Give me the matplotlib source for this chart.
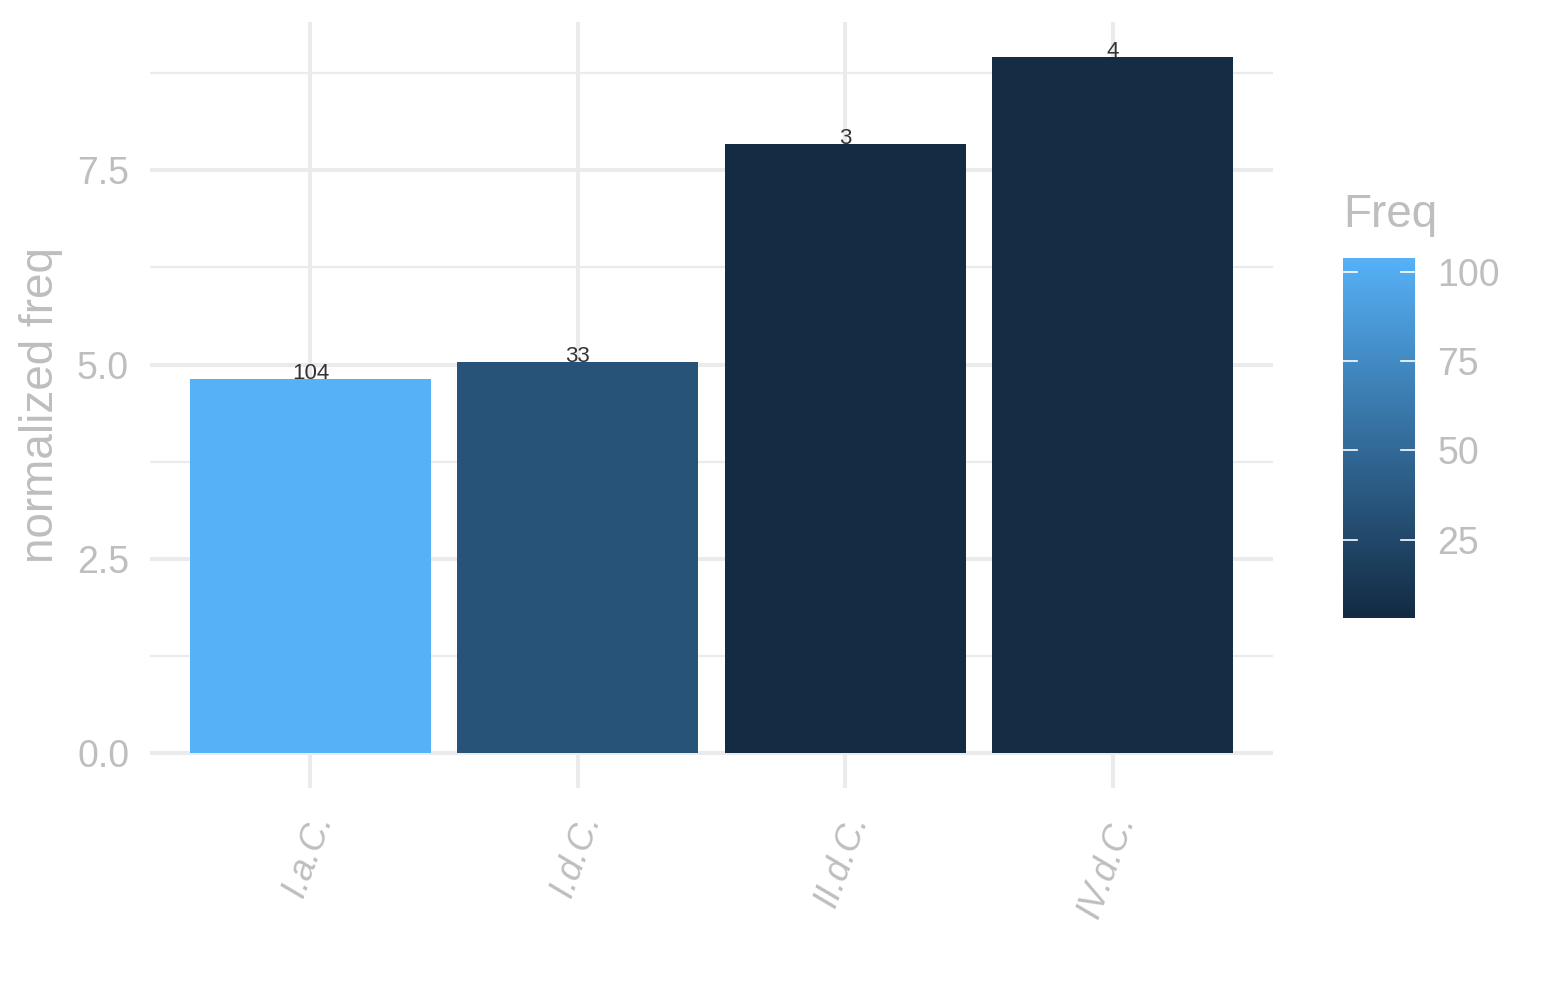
import numpy as np
import matplotlib
matplotlib.use("Agg")
from matplotlib import pyplot as plt
from matplotlib.colors import LinearSegmentedColormap, Normalize
import matplotlib.transforms as mtransforms

categories = ["I.a.C.", "I.d.C.", "II.d.C.", "IV.d.C."]
norm_freq = [4.82, 5.03, 7.84, 8.96]
freq = [104, 33, 3, 4]
y_ticks = [0.0, 2.5, 5.0, 7.5]
y_minor = [1.25, 3.75, 6.25, 8.75]
cbar_ticks = [25, 50, 75, 100]

plt.rcParams['font.family'] = ['Liberation Sans', 'DejaVu Sans']
grey = "#BEBEBE"
grid = "#EBEBEB"

cmap = LinearSegmentedColormap.from_list("gg", ["#132B43", "#56B1F7"])
cnorm = Normalize(vmin=min(freq), vmax=max(freq))

fig = plt.figure(figsize=(15.45, 10), dpi=100)
ax = fig.add_axes([150 / 1545, 1 - 788 / 1000, 1123 / 1545, 766 / 1000])

x = np.arange(len(categories))
ax.bar(x, norm_freq, width=0.9, color=cmap(cnorm(freq)), zorder=2)
for xi, v, f in zip(x, norm_freq, freq):
    ax.text(xi, v, str(f), ha="center", va="baseline", fontsize=16, color="#333333", zorder=3)

ymax = max(norm_freq)
ax.set_xlim(-0.6, len(categories) - 0.4)
ax.set_ylim(-0.05 * ymax, ymax * 1.05)

ax.set_yticks(y_ticks)
ax.set_yticklabels([f"{t:.1f}" for t in y_ticks])
ax.set_yticks(y_minor, minor=True)
ax.set_xticks(x)
ax.set_xticklabels([])

# rotated category labels, placed by hand under each tick
lab_trans = ax.get_xaxis_transform() + mtransforms.ScaledTranslation(0.13, -0.27, fig.dpi_scale_trans)
for xi, lab in zip(x, categories):
    ax.text(xi, 0, lab, transform=lab_trans, rotation=70, rotation_mode="anchor",
            ha="right", va="center", fontsize=26, style="italic", color=grey)

ax.grid(True, which="major", color=grid, linewidth=2.9, zorder=0)
ax.grid(True, which="minor", axis="y", color=grid, linewidth=1.6, zorder=0)
ax.set_axisbelow(True)
for s in ax.spines.values():
    s.set_visible(False)
ax.tick_params(which="both", length=0)
ax.tick_params(axis="y", labelsize=27, labelcolor=grey, pad=15)

ax.set_ylabel("normalized freq", fontsize=33, color=grey, labelpad=10)

# colour bar legend
cax = fig.add_axes([1343 / 1545, 1 - 618 / 1000, 72 / 1545, 360 / 1000])
grad = np.linspace(min(freq), max(freq), 300).reshape(-1, 1)
cax.imshow(grad, aspect="auto", cmap=cmap, norm=cnorm, origin="lower",
           extent=[0, 1, min(freq), max(freq)])
cax.set_xlim(0, 1)
cax.set_ylim(min(freq), max(freq))
cax.set_xticks([])
cax.yaxis.tick_right()
cax.set_yticks(cbar_ticks)
cax.set_yticklabels([str(t) for t in cbar_ticks])
cax.tick_params(axis="y", length=0, labelsize=27, labelcolor=grey, pad=16)
for t in cbar_ticks:
    cax.plot([0, 0.2], [t, t], color="white", lw=1.2)
    cax.plot([0.8, 1], [t, t], color="white", lw=1.2)
for s in cax.spines.values():
    s.set_visible(False)
fig.text(1343 / 1545, 1 - 215 / 1000, "Freq", fontsize=33, color=grey, va="center", ha="left")

fig.savefig("out.png", dpi=100)
